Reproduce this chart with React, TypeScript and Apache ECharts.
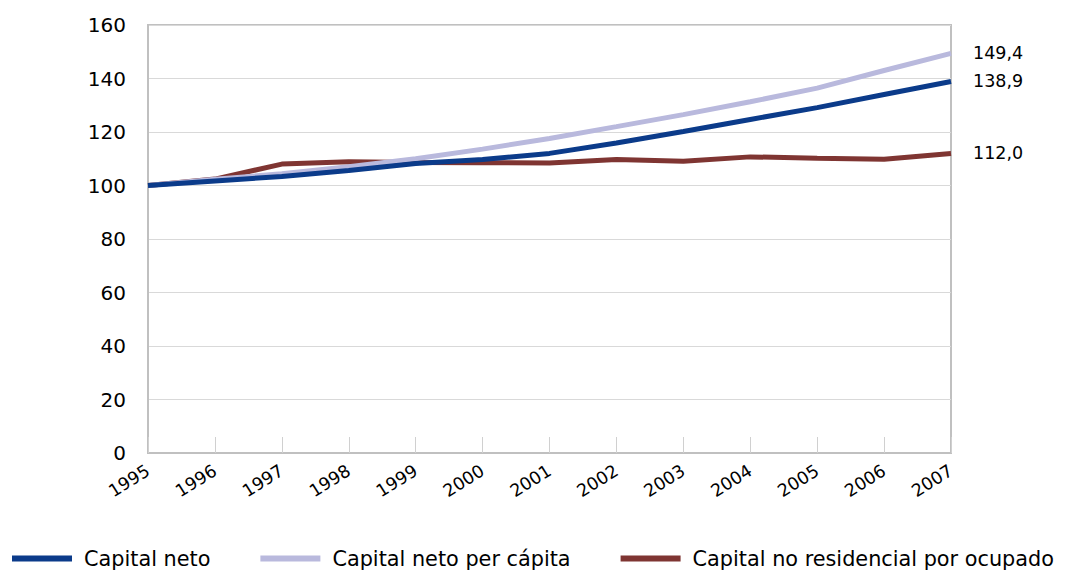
import React, { useEffect, useRef } from "react";
import * as echarts from "echarts";

const years = ["1995","1996","1997","1998","1999","2000","2001","2002","2003","2004","2005","2006","2007"];
const capitalNeto = [100, 101.7, 103.4, 105.6, 108.2, 109.7, 112.0, 115.9, 120.2, 124.7, 129.1, 134.0, 138.9];
const capitalNetoPerCapita = [100, 102.3, 104.4, 107.0, 110.0, 113.6, 117.6, 122.0, 126.5, 131.3, 136.4, 143.0, 149.4];
const capitalNoResidencial = [100, 102.4, 108.0, 108.9, 108.6, 108.5, 108.4, 109.7, 109.1, 110.7, 110.2, 109.8, 112.0];
const yTicks = { min: 0, max: 160, interval: 20 };

const FONT = "DejaVu Sans";

export default function App() {
  const ref = useRef<HTMLDivElement>(null);
  useEffect(() => {
    if (!ref.current) return;
    const chart = echarts.init(ref.current, null, { renderer: "svg" });
    const mk = (name: string, data: number[], color: string) => ({
      name,
      type: "line",
      data,
      symbol: "none",
      lineStyle: { color, width: 5 },
      itemStyle: { color },
      endLabel: {
        show: true,
        formatter: (p: any) => Number(p.value).toFixed(1).replace(".", ","),
        color: "#000",
        fontFamily: FONT,
        fontSize: 17.5,
        distance: 22,
      },
    });
    chart.setOption({
      animation: false,
      grid: { left: 148, right: 114, top: 25, bottom: 120, show: true, borderColor: "#c0c0c0", borderWidth: 2 },
      legend: {
        top: 548,
        left: 12,
        padding: 0,
        itemWidth: 60,
        itemHeight: 6,
        itemGap: 50,
        icon: "rect",
        textStyle: { fontFamily: FONT, fontSize: 20.8, color: "#000", padding: [0, 0, 0, 7] },
        data: ["Capital neto", "Capital neto per cápita", "Capital no residencial por ocupado"],
      },
      xAxis: {
        type: "category",
        data: years,
        boundaryGap: false,
        axisLine: { lineStyle: { color: "#c0c0c0", width: 2 } },
        axisTick: { show: true, inside: true, length: 16, lineStyle: { color: "#d0d0d0" } },
        axisLabel: { rotate: 32, fontFamily: FONT, fontSize: 17.5, color: "#000", margin: 16 },
        splitLine: { show: false },
      },
      yAxis: {
        type: "value",
        min: yTicks.min,
        max: yTicks.max,
        interval: yTicks.interval,
        axisLine: { show: true, lineStyle: { color: "#c0c0c0", width: 2 } },
        axisTick: { show: false },
        axisLabel: { fontFamily: FONT, fontSize: 20, color: "#000", margin: 22 },
        splitLine: { lineStyle: { color: "#d9d9d9", width: 1 } },
      },
      series: [
        mk("Capital no residencial por ocupado", capitalNoResidencial, "#7f3532"),
        mk("Capital neto per cápita", capitalNetoPerCapita, "#b9b9dd"),
        mk("Capital neto", capitalNeto, "#0b3b8a"),
      ],
    });
    return () => chart.dispose();
  }, []);
  return <div ref={ref} style={{ width: 1065, height: 573, position: "absolute", left: 0, top: 0 }} />;
}
